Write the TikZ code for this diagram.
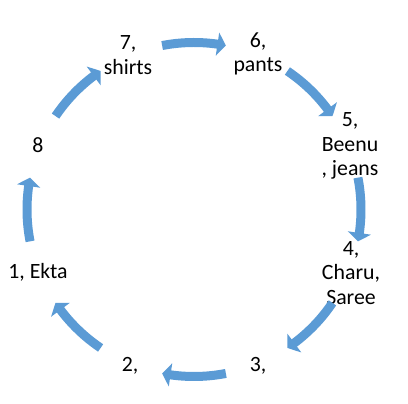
\documentclass[tikz,border=0pt]{standalone}
\usepackage{fontspec}
\setmainfont{Carlito}
\usetikzlibrary{arrows.meta,bending}
\definecolor{accblue}{HTML}{5B9BD5}
\begin{document}
\begin{tikzpicture}[x=1pt, y=1pt,
  every node/.style={font=\fontsize{21.8}{24.5}\selectfont, align=center, inner sep=0pt},
  cyc/.style={accblue, line width=9pt, -{Triangle[length=8.5pt,width=23pt,bend]}}]
\useasboundingbox (0,0) rectangle (408,404);
\coordinate (c) at (194,194.5);
% labels round the cycle
\node (n1) at (38,132) {1, Ekta};
\node (n2) at (130,38) {2,};
\node (n3) at (258,38) {3,};
\node (n4) at (351,131) {4,\\Charu,\\Saree};
\node (n5) at (350,258) {5,\\Beenu\\, jeans};
\node (n6) at (258,350) {6,\\pants};
\node (n7) at (128,349) {7,\\shirts};
\node (n8) at (38,259) {8};
% curved arrows, clockwise
\foreach \a in {180,135,...,-135} {
  \draw[cyc] ([shift={(\a+11:167)}]c) arc[start angle=\a+11, end angle=\a-11, radius=167];
}
\end{tikzpicture}
\end{document}
